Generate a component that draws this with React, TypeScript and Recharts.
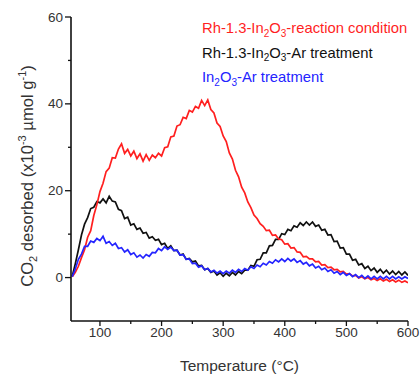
import { LineChart, Line, XAxis, YAxis } from 'recharts'

const FONT = '"Liberation Sans", Arial, sans-serif'

const temps = [
  55, 60, 65, 70, 75, 80, 85, 90, 95, 100,
  105, 110, 115, 120, 125, 130, 135, 140, 145, 150,
  155, 160, 165, 170, 175, 180, 185, 190, 195, 200,
  205, 210, 215, 220, 225, 230, 235, 240, 245, 250,
  255, 260, 265, 270, 275, 280, 285, 290, 295, 300,
  305, 310, 315, 320, 325, 330, 335, 340, 345, 350,
  355, 360, 365, 370, 375, 380, 385, 390, 395, 400,
  405, 410, 415, 420, 425, 430, 435, 440, 445, 450,
  455, 460, 465, 470, 475, 480, 485, 490, 495, 500,
  505, 510, 515, 520, 525, 530, 535, 540, 545, 550,
  555, 560, 565, 570, 575, 580, 585, 590, 595, 600,
]

// Rh-1.3-In2O3, reaction condition
const reactionRh = [
  0.2, 1.2, 2.6, 4.6, 6.4, 9.3, 10.8, 14.3, 16.8, 19.8,
  21.7, 24.4, 25.2, 27.6, 27.5, 29.6, 30.8, 28.6, 29.5, 28.0,
  29.1, 27.4, 28.5, 26.8, 28.3, 27.0, 28.2, 27.6, 28.6, 28.0,
  29.9, 30.1, 32.4, 32.6, 34.9, 35.2, 36.9, 36.6, 38.5, 38.1,
  39.4, 39.0, 40.8, 39.6, 40.9, 38.7, 37.9, 35.6, 34.8, 32.6,
  31.3, 28.7, 27.3, 24.7, 23.2, 20.8, 19.5, 17.4, 16.1, 14.4,
  13.6, 12.4, 11.8, 10.8, 10.9, 9.7, 9.8, 8.9, 8.7, 7.7,
  7.8, 6.8, 6.9, 5.9, 5.8, 4.8, 4.9, 4.3, 4.3, 3.6,
  3.7, 2.9, 3.0, 2.3, 2.4, 1.8, 1.9, 1.3, 1.4, 0.8,
  0.9, 0.4, 0.5, -0.1, 0.2, -0.3, 0.0, -0.5, -0.2, -0.7,
  -0.3, -0.8, -0.4, -0.9, -0.5, -1.0, -0.6, -1.1, -0.8, -1.2,
]

// Rh-1.3-In2O3, Ar treatment
const arRh = [
  0.3, 3.2, 6.4, 9.8, 12.3, 13.8, 15.9, 16.2, 17.5, 17.2,
  18.1, 17.2, 18.7, 17.6, 17.4, 15.7, 15.4, 13.6, 13.9, 12.1,
  12.4, 11.1, 11.4, 10.2, 10.4, 9.1, 9.4, 8.6, 8.8, 7.6,
  7.9, 6.7, 7.3, 6.2, 6.3, 5.2, 5.4, 4.2, 4.4, 3.6,
  3.8, 2.7, 2.8, 1.8, 2.1, 1.2, 1.5, 0.6, 1.1, 0.3,
  1.0, 0.4, 1.2, 0.6, 1.4, 0.9, 1.7, 1.7, 2.8, 2.6,
  4.1, 4.2, 5.7, 5.7, 7.3, 7.4, 8.8, 8.8, 10.1, 9.9,
  11.1, 10.8, 11.9, 11.6, 12.6, 12.0, 12.8, 12.1, 12.8, 11.8,
  12.1, 10.9, 11.1, 9.8, 9.9, 8.3, 8.4, 6.8, 6.9, 5.4,
  5.4, 4.0, 4.2, 2.9, 3.2, 2.1, 2.6, 1.6, 2.2, 1.2,
  1.9, 1.0, 1.7, 0.8, 1.5, 0.7, 1.4, 0.6, 1.3, 0.5,
]

// In2O3, Ar treatment
const arIn2O3 = [
  0.2, 2.0, 4.2, 5.4, 7.2, 7.2, 8.4, 8.1, 9.0, 8.5,
  9.5, 7.9, 8.3, 7.4, 7.9, 6.7, 6.9, 5.9, 6.4, 5.3,
  5.7, 4.7, 5.2, 4.5, 5.3, 4.9, 5.8, 5.7, 6.7, 6.2,
  7.1, 6.5, 7.0, 6.2, 6.3, 5.2, 5.3, 4.2, 4.3, 3.2,
  3.3, 2.4, 2.7, 1.8, 2.1, 1.3, 1.7, 1.0, 1.5, 0.9,
  1.5, 1.0, 1.7, 1.2, 1.9, 1.4, 2.1, 1.7, 2.5, 2.1,
  2.9, 2.5, 3.3, 2.9, 3.7, 3.3, 4.1, 3.6, 4.3, 3.7,
  4.4, 3.8, 4.3, 3.5, 3.9, 3.1, 3.5, 2.7, 3.1, 2.2,
  2.6, 1.8, 2.2, 1.4, 1.8, 1.0, 1.4, 0.7, 1.2, 0.5,
  0.9, 0.2, 0.7, 0.0, 0.5, -0.2, 0.4, -0.3, 0.3, -0.3,
  0.3, -0.3, 0.3, -0.3, 0.3, -0.3, 0.2, -0.3, 0.2, -0.2,
]

const xTicks = [100, 150, 200, 250, 300, 350, 400, 450, 500, 550, 600]
const yTicks = [-10, 0, 10, 20, 30, 40, 50, 60]

const legendItems = [
  { key: 'reaction', before: 'Rh-1.3-', after: '-reaction condition', color: '#ff1f1f' },
  { key: 'rhAr', before: 'Rh-1.3-', after: '-Ar treatment', color: '#111111' },
  { key: 'inAr', before: '', after: '-Ar treatment', color: '#2424ff' },
]

const data = temps.map((t, i) => ({
  t,
  reaction: reactionRh[i],
  rhAr: arRh[i],
  inAr: arIn2O3[i],
}))

function XTick({ x, y, payload }: any) {
  const major = payload.value % 100 === 0
  return (
    <g>
      <line x1={x} y1={y} x2={x} y2={y + (major ? 5 : 3)} stroke="#111" strokeWidth={1.3} />
      {major && (
        <text x={x} y={y + 16} textAnchor="middle" fontSize={13.5} fontFamily={FONT} fill="#333">
          {payload.value}
        </text>
      )}
    </g>
  )
}

function YTick({ x, y, payload }: any) {
  if (payload.value < 0) return <g />
  const major = payload.value % 20 === 0
  return (
    <g>
      <line x1={x} y1={y} x2={x - (major ? 6 : 3)} y2={y} stroke="#111" strokeWidth={1.3} />
      {major && (
        <text x={x - 8} y={y + 4.5} textAnchor="end" fontSize={13.5} fontFamily={FONT} fill="#333">
          {payload.value}
        </text>
      )}
    </g>
  )
}

function YTitle({ viewBox }: any) {
  const cx = 33
  const cy = viewBox.y + viewBox.height / 2 + 7
  return (
    <text
      x={cx}
      y={cy}
      transform={`rotate(-90 ${cx} ${cy})`}
      textAnchor="middle"
      fontSize={16.6}
      fontFamily={FONT}
      fill="#333"
    >
      CO
      <tspan dy={4} fontSize={11}>2</tspan>
      <tspan dy={-4}>{' desorbed (x10'}</tspan>
      <tspan dy={-7} fontSize={11}>-3</tspan>
      <tspan dy={7}>{' \u00B5mol g'}</tspan>
      <tspan dy={-7} fontSize={11}>-1</tspan>
      <tspan dy={7}>)</tspan>
    </text>
  )
}

function LegendBlock() {
  return (
    <g>
      {legendItems.map((item, i) => (
        <text key={item.key} x={202} y={33 + i * 24.5} fontSize={14.8} fontFamily={FONT} fill={item.color}>
          {item.before}In
          <tspan dy={3.5} fontSize={10}>2</tspan>
          <tspan dy={-3.5}>O</tspan>
          <tspan dy={3.5} fontSize={10}>3</tspan>
          <tspan dy={-3.5}>{item.after}</tspan>
        </text>
      ))}
    </g>
  )
}

export default function App() {
  return (
    <div style={{ position: 'absolute', left: 0, top: 0, width: 420, height: 376, background: '#fff', fontFamily: FONT }}>
      <LineChart width={420} height={376} data={data} margin={{ top: 17, right: 12, bottom: 0, left: 0 }}>
        <XAxis
          dataKey="t"
          type="number"
          domain={[53, 600]}
          ticks={xTicks}
          allowDataOverflow
          height={55}
          tickSize={0}
          tickMargin={0}
          tickLine={false}
          tick={<XTick />}
          interval={0}
          axisLine={{ stroke: '#111', strokeWidth: 1.6 }}
          label={{ value: 'Temperature (\u00B0C)', position: 'insideBottom', offset: 5, fontSize: 15.5, fill: '#333', fontFamily: FONT }}
        />
        <XAxis
          xAxisId="top"
          dataKey="t"
          type="number"
          orientation="top"
          domain={[53, 600]}
          allowDataOverflow
          height={0}
          tick={false}
          tickLine={false}
          axisLine={{ stroke: '#333', strokeWidth: 1.6 }}
        />
        <YAxis
          type="number"
          domain={[-10, 60]}
          ticks={yTicks}
          allowDataOverflow
          width={71}
          tickSize={0}
          tickMargin={0}
          tickLine={false}
          tick={<YTick />}
          interval={0}
          axisLine={{ stroke: '#111', strokeWidth: 1.6 }}
          label={<YTitle />}
        />
        <YAxis
          yAxisId="right"
          orientation="right"
          type="number"
          domain={[-10, 60]}
          width={0}
          tick={false}
          tickLine={false}
          axisLine={{ stroke: '#444', strokeWidth: 1.8 }}
        />
        <Line dataKey="rhAr" stroke="#111111" strokeWidth={1.7} dot={false} isAnimationActive={false} />
        <Line dataKey="reaction" stroke="#ff1f1f" strokeWidth={1.7} dot={false} isAnimationActive={false} />
        <Line dataKey="inAr" stroke="#2424ff" strokeWidth={1.7} dot={false} isAnimationActive={false} />
        <LegendBlock />
      </LineChart>
    </div>
  )
}
